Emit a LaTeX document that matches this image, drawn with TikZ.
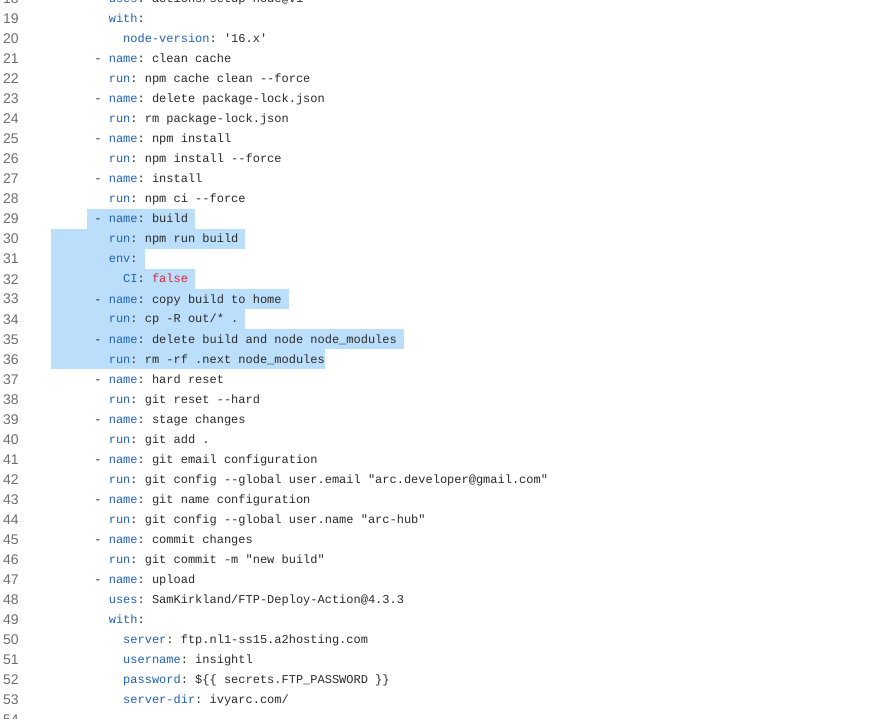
\documentclass[tikz,border=0pt]{standalone}
\usepackage{fontspec}
\setmainfont{Liberation Sans}
\setmonofont{Liberation Mono}
\usetikzlibrary{positioning}

\definecolor{keyblue}{HTML}{2262B4}
\definecolor{codetext}{HTML}{2B2B2B}
\definecolor{falsered}{HTML}{D6293F}
\definecolor{numgray}{HTML}{6E6E6E}
\definecolor{selblue}{HTML}{BBDEFB}

\newcommand{\yk}[1]{\textcolor{keyblue}{#1}}
\newcommand{\yf}[1]{\textcolor{falsered}{#1}}

\tikzset{
  codeline/.style={anchor=base west, inner sep=0pt, text=codetext,
    font=\ttfamily\fontsize{12pt}{14pt}\selectfont\frenchspacing},
  linenum/.style={anchor=base west, inner sep=0pt, text=numgray,
    font=\fontsize{14pt}{16pt}\selectfont},
  selbox/.style={fill=selblue}
}

\begin{document}
\begin{tikzpicture}[x=1pt, y=-1pt]
    \useasboundingbox (0,0) rectangle (894,719);
    \clip (0,0) rectangle (894,719);
    \fill[white] (0,0) rectangle (894,719);
    % selected lines
    \foreach \n/\a/\b in {29/5/20, 30/0/27, 31/0/13, 32/0/20,
                          33/0/33, 34/0/27, 35/0/49, 36/0/38}
      \fill[selbox] ({51+7.2*\a},{9+(\n-19)*20}) rectangle ({51+7.2*\b},{29+(\n-19)*20});
    % line numbers
    \foreach \n in {18,...,54}
      \node[linenum] (num\n) at (3,{24+(\n-19)*20}) {\n};
    % code
    \foreach \n/\c/\txt in {
      18/8/{\yk{uses}: actions/setup-node@v1},
      19/8/{\yk{with}:},
      20/10/{\yk{node-version}: '16.x'},
      21/6/{- \yk{name}: clean cache},
      22/8/{\yk{run}: npm cache clean --force},
      23/6/{- \yk{name}: delete package-lock.json},
      24/8/{\yk{run}: rm package-lock.json},
      25/6/{- \yk{name}: npm install},
      26/8/{\yk{run}: npm install --force},
      27/6/{- \yk{name}: install},
      28/8/{\yk{run}: npm ci --force},
      29/6/{- \yk{name}: build},
      30/8/{\yk{run}: npm run build},
      31/8/{\yk{env}:},
      32/10/{\yk{CI}: \yf{false}},
      33/6/{- \yk{name}: copy build to home},
      34/8/{\yk{run}: cp -R out/* .},
      35/6/{- \yk{name}: delete build and node node\_modules},
      36/8/{\yk{run}: rm -rf .next node\_modules},
      37/6/{- \yk{name}: hard reset},
      38/8/{\yk{run}: git reset --hard},
      39/6/{- \yk{name}: stage changes},
      40/8/{\yk{run}: git add .},
      41/6/{- \yk{name}: git email configuration},
      42/8/{\yk{run}: git config --global user.email "arc.developer@gmail.com"},
      43/6/{- \yk{name}: git name configuration},
      44/8/{\yk{run}: git config --global user.name "arc-hub"},
      45/6/{- \yk{name}: commit changes},
      46/8/{\yk{run}: git commit -m "new build"},
      47/6/{- \yk{name}: upload},
      48/8/{\yk{uses}: SamKirkland/FTP-Deploy-Action@4.3.3},
      49/8/{\yk{with}:},
      50/10/{\yk{server}: ftp.nl1-ss15.a2hosting.com},
      51/10/{\yk{username}: insightl},
      52/10/{\yk{password}: \$\{\{ secrets.FTP\_PASSWORD \}\}},
      53/10/{\yk{server-dir}: ivyarc.com/}}
      \node[codeline] (code\n) at ({51+7.2*\c},{23+(\n-19)*20}) {\txt};
\end{tikzpicture}
\end{document}
